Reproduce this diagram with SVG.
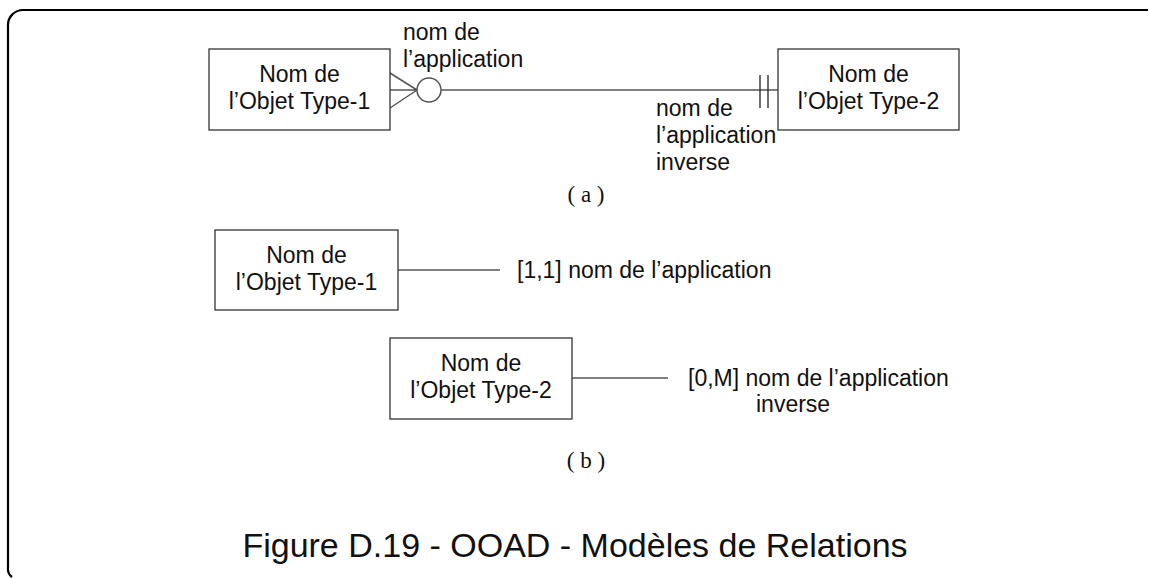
<svg xmlns="http://www.w3.org/2000/svg" width="1150" height="578" viewBox="0 0 1150 578">
<style>
.box{fill:#fff;stroke:#333;stroke-width:1.3}
.t{font-family:"Liberation Sans",Arial,sans-serif;font-size:23px;fill:#111}
.c{text-anchor:middle}
.s{font-family:"Liberation Serif","Times New Roman",serif;font-size:23px;fill:#111;text-anchor:middle}
.ln{stroke:#555;stroke-width:1.5;fill:none}
</style>
<rect width="1150" height="578" fill="#fff"/>
<path d="M1148 10 H23 A15 15 0 0 0 8 25 V568 A10 10 0 0 0 12 577" fill="none" stroke="#000" stroke-width="2.2"/>
<g id="connectors">
<path class="ln" d="M390 73 L417 90 M390 90 L417 90 M390 108 L417 90"/>
<circle class="ln" cx="429" cy="90" r="12"/>
<path class="ln" d="M441 90 H778"/>
<path d="M760 75 V108 M768 75 V108" stroke="#222" stroke-width="1.3"/>
<path class="ln" d="M398 270 H500"/>
<path class="ln" d="M572 378 H668"/>
</g>
<g id="a-obj1"><rect class="box" x="209" y="49" width="181" height="81"/><text class="t c" x="299.5" y="82">Nom de</text><text class="t c" x="299.5" y="109">l’Objet Type-1</text></g>
<g id="a-obj2"><rect class="box" x="778" y="49" width="181" height="81"/><text class="t c" x="868.5" y="82">Nom de</text><text class="t c" x="868.5" y="109">l’Objet Type-2</text></g>
<g id="a-label1"><text class="t" x="403" y="40">nom de</text><text class="t" x="403" y="67">l’application</text></g>
<g id="a-label2"><text class="t" x="656" y="116">nom de</text><text class="t" x="656" y="143">l’application</text><text class="t" x="656" y="170">inverse</text></g>
<text class="s" x="586" y="202">( a )</text>
<g id="b-obj1"><rect class="box" x="215" y="230" width="183" height="80"/><text class="t c" x="306.5" y="263">Nom de</text><text class="t c" x="306.5" y="290">l’Objet Type-1</text></g>
<g id="b-label1"><text class="t" x="517" y="278">[1,1] nom de l’application</text></g>
<g id="b-obj2"><rect class="box" x="390" y="338" width="182" height="81"/><text class="t c" x="481" y="371">Nom de</text><text class="t c" x="481" y="398">l’Objet Type-2</text></g>
<g id="b-label2"><text class="t" x="688" y="386">[0,M] nom de l’application</text><text class="t" x="756" y="412">inverse</text></g>
<text class="s" x="586" y="468">( b )</text>
<text class="t c" x="575" y="557" style="font-size:34px">Figure D.19 - OOAD - Modèles de Relations</text>
</svg>
